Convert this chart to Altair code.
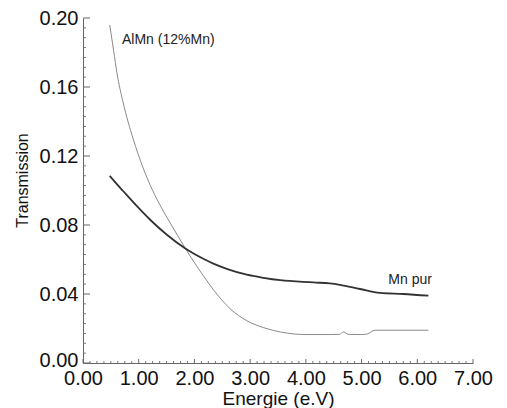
import altair as alt
import pandas as pd

# AlMn (12%Mn) curve
almn_e = [0.48, 0.55, 0.61, 0.72, 0.90, 1.08, 1.25, 1.40, 1.56, 1.70, 1.83, 2.04, 2.19, 2.34,
          2.64, 2.94, 3.24, 3.54, 3.80, 4.02, 4.43, 4.60, 4.68, 4.76, 5.00, 5.10, 5.24, 6.20]
almn_t = [0.196, 0.181, 0.168, 0.151, 0.130, 0.113, 0.100, 0.0905, 0.0815, 0.0738, 0.0668,
          0.0562, 0.0492, 0.0425, 0.0315, 0.0245, 0.0205, 0.018, 0.0168, 0.0165, 0.0165,
          0.0166, 0.018, 0.0166, 0.0165, 0.0168, 0.019, 0.019]

# Mn pur curve
mn_e = [0.48, 0.60, 0.72, 0.96, 1.20, 1.50, 1.83, 2.16, 2.34, 2.58, 2.94, 3.24, 3.54, 4.14,
        4.43, 4.61, 4.97, 5.33, 5.75, 6.20]
mn_t = [0.1085, 0.1040, 0.0997, 0.0912, 0.0832, 0.0745, 0.0665, 0.0604, 0.0576, 0.0546,
        0.0512, 0.0494, 0.048, 0.0467, 0.0461, 0.0453, 0.0429, 0.0406, 0.040, 0.039]

labels = ["AlMn (12%Mn)", "Mn pur"]
label_e = [0.70, 5.48]
label_t = [0.1873, 0.0483]

x_major = [0, 1, 2, 3, 4, 5, 6, 7]
y_major = [0.0, 0.04, 0.08, 0.12, 0.16, 0.20]
x_minor = [i * 0.125 for i in range(57) if i % 8 != 0]
y_minor = [i * 0.04 / 7 for i in range(36) if i % 7 != 0]

FONT = "Liberation Sans"
H = 345

X = alt.X("x:Q", scale=alt.Scale(domain=[0, 7], nice=False, zero=False),
          axis=alt.Axis(values=x_major, format=".2f", ticks=False, grid=False,
                        labelFlush=False, labelOverlap=False,
                        title="Energie (e.V)", labelFontSize=20, labelPadding=5,
                        titleFontSize=19, titleFontWeight="normal", titleFont=FONT,
                        titleBaseline="alphabetic", titleY=41, titleColor="#111",
                        labelFont=FONT, labelColor="#111", domainColor="#666",
                        labelBaseline="top"))
Y = alt.Y("y:Q", scale=alt.Scale(domain=[0, 0.2], nice=False, zero=False),
          axis=alt.Axis(values=y_major, format=".2f", ticks=False, grid=False,
                        labelFlush=False, labelOverlap=False,
                        labelOffset={"condition": {"test": "datum.value < 0.01", "value": -3},
                                     "value": 0},
                        title="Transmission", labelFontSize=20, labelPadding=5,
                        titleFontSize=16, titleFontWeight="normal", titleFont=FONT,
                        titleAngle=-90, titleBaseline="alphabetic", titleX=-56,
                        titleY=162, titleAlign="center", titleColor="#111",
                        labelFont=FONT, labelColor="#111", domainColor="#666"))

df_almn = pd.DataFrame({"x": almn_e, "y": almn_t})
df_mn = pd.DataFrame({"x": mn_e, "y": mn_t})
df_lab = pd.DataFrame({"x": label_e, "y": label_t, "t": labels})
df_xmaj = pd.DataFrame({"x": x_major})
df_xmin = pd.DataFrame({"x": x_minor})
df_ymaj = pd.DataFrame({"y": y_major})
df_ymin = pd.DataFrame({"y": y_minor})

almn = alt.Chart(df_almn).mark_line(color="#8a8a8a", strokeWidth=1,
                                    interpolate="monotone").encode(x=X, y=Y)
mn = alt.Chart(df_mn).mark_line(color="#333333", strokeWidth=1.8,
                                interpolate="monotone").encode(x=X, y=Y)
txt = alt.Chart(df_lab).mark_text(align="left", baseline="middle", font=FONT, fontSize=14,
                                  color="#222").encode(x=X, y=Y, text="t:N")
xmaj = alt.Chart(df_xmaj).mark_rule(color="#666", strokeWidth=1).encode(
    x=X, y=alt.value(H), y2=alt.value(H - 4))
xmin = alt.Chart(df_xmin).mark_rule(color="#777", strokeWidth=1).encode(
    x=X, y=alt.value(H), y2=alt.value(H - 2))
ymaj = alt.Chart(df_ymaj).mark_rule(color="#666", strokeWidth=1).encode(
    y=Y, x=alt.value(0), x2=alt.value(7))
ymin = alt.Chart(df_ymin).mark_rule(color="#777", strokeWidth=1).encode(
    y=Y, x=alt.value(0), x2=alt.value(3))

chart = alt.layer(xmin, xmaj, ymin, ymaj, almn, mn, txt).properties(
    width=390, height=H,
    autosize=alt.AutoSizeParams(type="none"),
    padding={"left": 75, "top": 10, "right": 26, "bottom": 45},
    background="white",
).configure_view(stroke=None)

chart.save("out.html", embed_options={"renderer": "svg", "actions": False})
